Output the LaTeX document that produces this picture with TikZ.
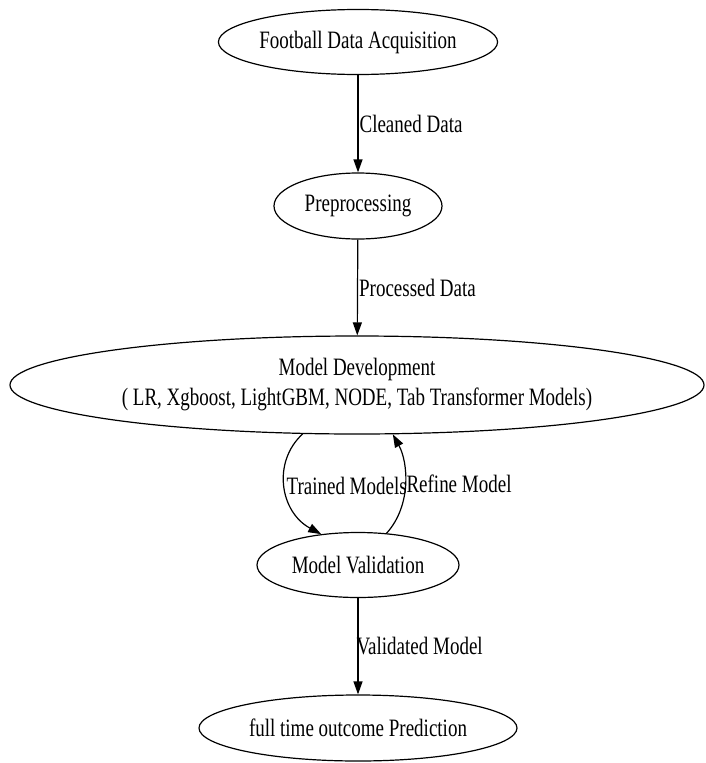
\documentclass[tikz,border=0pt]{standalone}
\usepackage{fontspec}
\setmainfont{Liberation Serif}[FakeStretch=0.76]
\usetikzlibrary{shapes.geometric,arrows.meta}

\begin{document}
\begin{tikzpicture}[x=1pt,y=-1pt,
  >={Stealth[length=13pt,width=9pt,inset=0pt]},
  every node/.style={font=\fontsize{25}{30}\selectfont},
  stage/.style={ellipse,draw,line width=1.2pt,inner sep=0pt,align=center},
  lbl/.style={inner sep=1pt}]
\useasboundingbox (0,0) rectangle (705,763);
\node[stage,minimum width=224pt,minimum height=65pt] (acq) at (358,42) {Football Data Acquisition};
\node[stage,minimum width=168pt,minimum height=66pt] (prep) at (358,206) {Preprocessing};
\node[stage,minimum width=694pt,minimum height=98pt] (dev) at (357,385)
  {Model Development\\( LR, Xgboost, LightGBM, NODE, Tab Transformer Models)};
\node[stage,minimum width=202pt,minimum height=65pt] (val) at (358,565) {Model Validation};
\node[stage,minimum width=318pt,minimum height=66pt] (pred) at (358,728) {full time outcome Prediction};
\path[->,line width=1.2pt]
  (acq) edge node[lbl,right] {Cleaned Data} (prep)
  (prep) edge node[lbl,right] {Processed Data} (dev)
  (val) edge node[lbl,right,xshift=-3pt] {Validated Model} (pred);
\draw[->,line width=1.2pt] (dev.222) .. controls (272,462) and (280,512) .. (val.140)
  node[lbl,pos=0.5,anchor=west] {Trained Models};
\draw[->,line width=1.2pt] (val.48) .. controls (412,505) and (408,462) .. (dev.306)
  node[lbl,pos=0.5,anchor=west] {Refine Model};
\end{tikzpicture}
\end{document}
